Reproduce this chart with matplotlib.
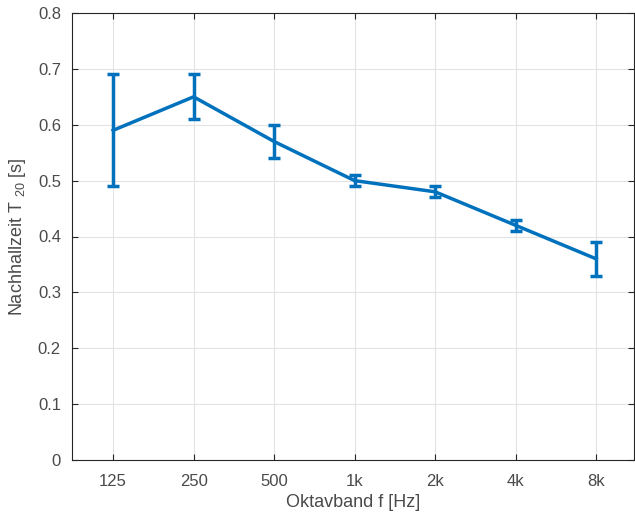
import numpy as np
import matplotlib.pyplot as plt

# Oktavbänder und Nachhallzeiten
baender = ['125', '250', '500', '1k', '2k', '4k', '8k']
t20 = [0.59, 0.65, 0.57, 0.50, 0.48, 0.42, 0.36]
t20_min = [0.49, 0.61, 0.54, 0.49, 0.47, 0.41, 0.33]
t20_max = [0.69, 0.69, 0.60, 0.51, 0.49, 0.43, 0.39]

plt.rcParams['font.family'] = ['Liberation Sans', 'DejaVu Sans']
plt.rcParams['mathtext.fontset'] = 'custom'
plt.rcParams['mathtext.rm'] = 'Liberation Sans'
plt.rcParams['mathtext.it'] = 'Liberation Sans'

fig = plt.figure(figsize=(6.35, 5.17), dpi=100)
ax = fig.add_axes([72/635, 57/517, 562/635, 447/517])

x = np.arange(len(baender))
t20 = np.array(t20)
fehler = [t20 - np.array(t20_min), np.array(t20_max) - t20]
ax.errorbar(x, t20, yerr=fehler, color='#0072BD', linewidth=2.5,
            elinewidth=2.5, capsize=4, capthick=2.5, zorder=3)

ax.set_xlim(-0.51, 6.47)
ax.set_ylim(0, 0.8)
ax.set_xticks(x)
ax.set_xticklabels(baender)
ax.set_yticks(np.arange(0, 0.81, 0.1))
ax.set_yticklabels(['0'] + ['%.1f' % v for v in np.arange(0.1, 0.81, 0.1)])

ax.grid(True, color='#e3e3e3', linewidth=0.8)
ax.set_axisbelow(True)
for s in ax.spines.values():
    s.set_color('#262626')
    s.set_linewidth(0.8)
ax.tick_params(direction='in', length=4, width=0.8, color='#262626',
               labelcolor='#4a4a4a', labelsize=12, top=True, right=True)
ax.tick_params(axis='x', pad=10)
ax.tick_params(axis='y', pad=8)

ax.set_xlabel('Oktavband f [Hz]', fontsize=13, color='#4a4a4a', labelpad=4)
ax.set_ylabel('Nachhallzeit T $_{20}$ [s]', fontsize=13, color='#4a4a4a', labelpad=7)

fig.savefig('out.png', dpi=100)
